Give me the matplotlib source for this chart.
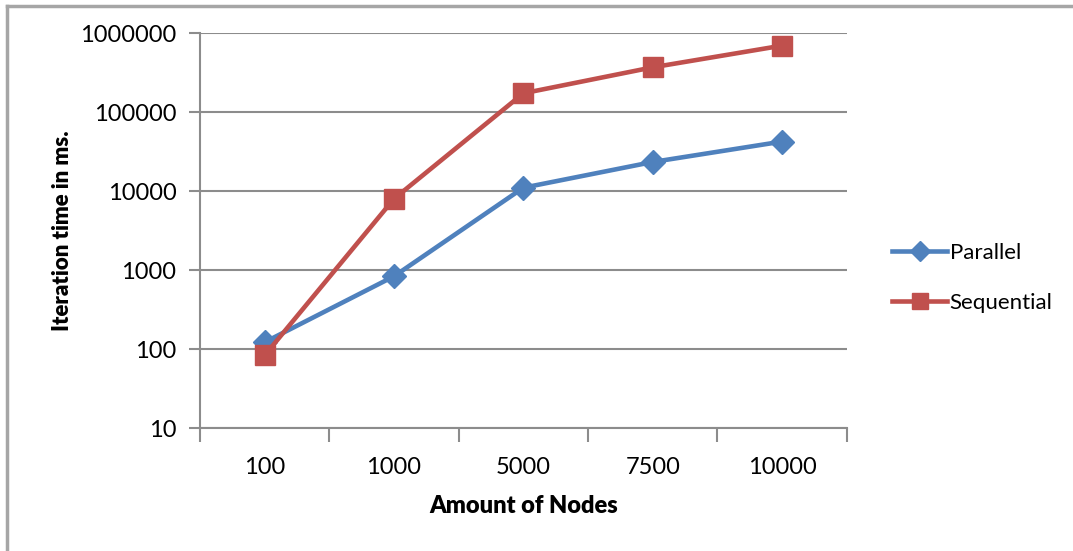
import matplotlib
matplotlib.use("Agg")
import matplotlib.pyplot as plt
from matplotlib.lines import Line2D

categories = ["100", "1000", "5000", "7500", "10000"]
parallel = [123, 840, 11100, 23500, 42600]
sequential = [84, 8040, 174000, 371000, 698000]
ytick_vals = [10, 100, 1000, 10000, 100000, 1000000]
ytick_labels = ["10", "100", "1000", "10000", "100000", "1000000"]

BLUE = "#4F81BD"
RED = "#C0504D"
GRID = "#8C8C8C"
FONT = "Lato"

fig = plt.figure(figsize=(10.73, 5.51), dpi=100)
W, H = 1073, 551
ax = fig.add_axes([200 / W, (H - 428.3) / H, (846.7 - 200) / W, (428.3 - 33.3) / H])

x = list(range(len(categories)))
ax.plot(x, parallel, color=BLUE, lw=3.3, marker="D", ms=12, mec=BLUE, mfc=BLUE,
        label="Parallel", zorder=3)
ax.plot(x, sequential, color=RED, lw=3.3, marker="s", ms=14, mec=RED, mfc=RED,
        label="Sequential", zorder=4)

ax.set_yscale("log")
ax.set_ylim(10, 1000000)
ax.set_xlim(-0.5, len(categories) - 0.5)
ax.set_yticks(ytick_vals)
ax.set_yticklabels(ytick_labels, fontsize=17, family=FONT)
ax.yaxis.set_minor_locator(matplotlib.ticker.NullLocator())
ax.grid(axis="y", color=GRID, lw=1.5)
ax.set_axisbelow(True)

# x ticks at category boundaries, labels at centers
ax.set_xticks([i - 0.5 for i in range(len(categories) + 1)])
ax.set_xticklabels([])
ax.set_xticks(x, minor=True)
ax.set_xticklabels(categories, minor=True, fontsize=17, family=FONT)
ax.tick_params(axis="x", which="major", direction="out", length=10, width=1.5, color=GRID)
ax.tick_params(axis="x", which="minor", length=0, pad=21)
ax.tick_params(axis="y", direction="out", length=8, width=1.5, color=GRID, pad=9)

for s in ["top", "right"]:
    ax.spines[s].set_visible(False)
for s in ["left", "bottom"]:
    ax.spines[s].set_color(GRID)
    ax.spines[s].set_linewidth(1.5)

ax.set_xlabel("Amount of Nodes", fontsize=17, fontweight="heavy", family=FONT, labelpad=12)
ax.set_ylabel("Iteration time in ms.", fontsize=16, fontweight="heavy", family=FONT, labelpad=5)

leg = fig.legend(loc="upper left", bbox_to_anchor=(883 / W, 1 - 234 / H), frameon=False,
                 prop={"family": FONT, "size": 16}, handlelength=2.5, handletextpad=0.1,
                 labelspacing=1.35, borderaxespad=0, markerscale=0.85)

# outer chart border (top and left visible)
fig.add_artist(Line2D([7 / W, 7 / W], [0, 1 - 6 / H], color="#A6A6A6", lw=2.5))
fig.add_artist(Line2D([7 / W, 1], [1 - 6 / H, 1 - 6 / H], color="#A6A6A6", lw=2.5))

fig.savefig("out.png", dpi=100)
